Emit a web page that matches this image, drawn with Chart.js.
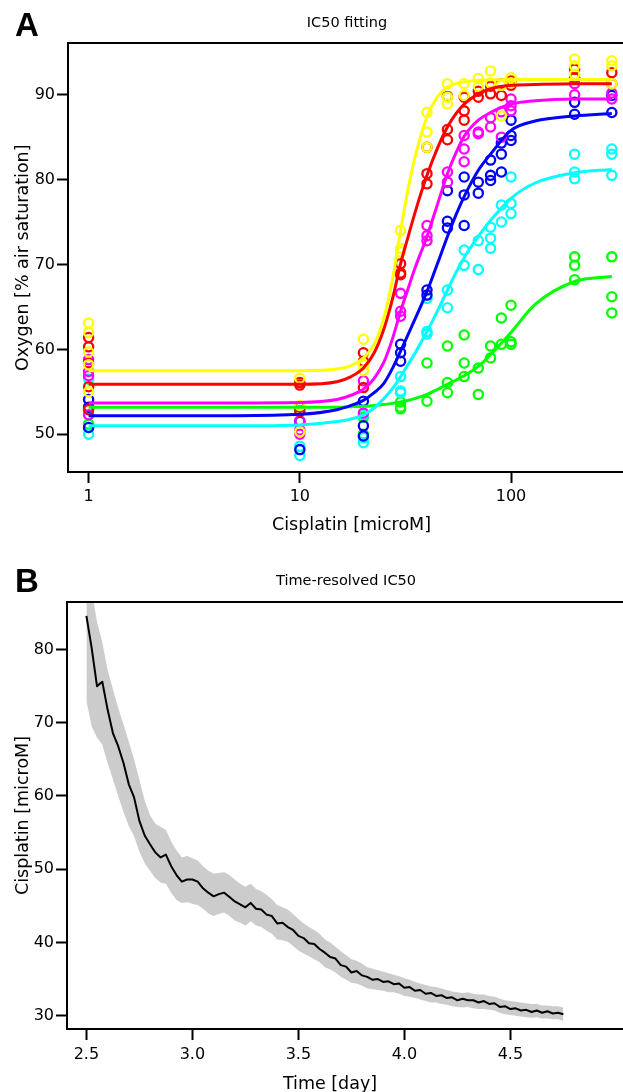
<!DOCTYPE html>
<html>
<head>
<meta charset="utf-8">
<title>IC50</title>
<script src="https://cdn.jsdelivr.net/npm/chart.js@4.4.1/dist/chart.umd.min.js"></script>
<style>
  html, body { margin: 0; padding: 0; background: #fff; overflow: hidden; }
  #page { position: relative; width: 623px; height: 1092px; overflow: hidden; }
  canvas { position: absolute; left: 0; }
  #fitChart { top: 0; }
  #timeChart { top: 545px; }
</style>
</head>
<body>
<div id="page">
  <canvas id="fitChart" width="640" height="545"></canvas>
  <canvas id="timeChart" width="640" height="547"></canvas>
</div>
<script>
const FONT = '"DejaVu Sans", Verdana, sans-serif';
const LETTER_FONT = '"Liberation Sans", Arial, sans-serif';

// Panel A: measured points, [cisplatin microM, oxygen %]
const yellowPoints = [[1, 63.1], [1, 62.0], [1, 59.7], [1, 58.2], [1, 55.0], [10, 56.6], [10, 53.4], [10, 50.3],
  [20, 61.2], [20, 58.2], [20, 57.5], [30, 74.0], [30, 71.9], [30, 71.5], [40, 87.9], [40, 85.6], [40, 83.8],
  [50, 91.3], [50, 89.7], [50, 88.9], [60, 91.3], [60, 89.9], [70, 91.9], [70, 91.0], [80, 92.8], [80, 91.4],
  [90, 91.1], [90, 87.5], [100, 92.0], [100, 91.4], [200, 94.2], [200, 93.4], [200, 92.4], [300, 94.0], [300, 93.4], [300, 91.3]];
const redPoints = [[1, 61.4], [1, 60.3], [1, 58.4], [1, 55.6], [1, 52.9], [10, 56.1], [10, 55.8], [10, 53.2], [10, 52.7],
  [20, 59.6], [20, 58.6], [20, 55.5], [30, 70.1], [30, 69.0], [30, 68.8], [40, 83.8], [40, 80.7], [40, 79.5],
  [50, 89.8], [50, 85.9], [50, 84.7], [60, 89.7], [60, 88.1], [60, 87.0], [70, 90.4], [70, 89.7], [80, 91.0], [80, 90.1],
  [90, 91.3], [90, 89.9], [100, 91.6], [100, 91.1], [200, 93.0], [200, 92.0], [300, 92.6], [300, 91.3]];
const magentaPoints = [[1, 58.8], [1, 57.4], [1, 56.9], [1, 52.3], [10, 51.6], [10, 50.5], [10, 50.0],
  [20, 56.3], [20, 52.5], [30, 66.6], [30, 64.5], [30, 63.9], [40, 74.6], [40, 73.4], [40, 72.8],
  [50, 80.9], [50, 79.7], [60, 85.2], [60, 83.6], [60, 82.1], [70, 85.6], [70, 85.4], [80, 87.3], [80, 86.2],
  [90, 88.0], [90, 85.0], [100, 89.5], [100, 88.7], [100, 88.1], [200, 91.3], [200, 90.0], [300, 90.2], [300, 89.5]];
const bluePoints = [[1, 54.1], [1, 53.2], [1, 50.8], [10, 51.5], [10, 48.2], [20, 53.9], [20, 51.0], [20, 49.8],
  [30, 60.6], [30, 59.6], [30, 58.6], [40, 67.0], [40, 66.4], [50, 78.7], [50, 75.1], [50, 74.3],
  [60, 80.3], [60, 78.2], [60, 74.6], [70, 79.7], [70, 78.4], [80, 82.3], [80, 80.5], [80, 79.9],
  [90, 84.3], [90, 83.0], [90, 80.9], [100, 87.0], [100, 85.2], [100, 84.6], [200, 89.1], [200, 87.7], [300, 89.9], [300, 87.9]];
const cyanPoints = [[1, 56.5], [1, 50.8], [1, 50.0], [10, 48.6], [10, 47.5], [20, 52.3], [20, 49.6], [20, 49.0],
  [30, 56.8], [30, 55.1], [30, 54.9], [40, 66.0], [40, 62.1], [40, 61.8], [50, 67.0], [50, 64.9],
  [60, 71.7], [60, 69.9], [70, 72.8], [70, 69.4], [80, 74.4], [80, 73.1], [80, 71.9], [90, 77.0], [90, 75.0],
  [100, 80.3], [100, 77.2], [100, 76.0], [200, 83.0], [200, 80.9], [200, 80.1], [300, 83.6], [300, 83.0], [300, 80.5]];
const greenPoints = [[1, 53.0], [1, 51.2], [10, 52.8], [20, 52.0], [20, 50.0], [30, 53.8], [30, 53.2], [30, 53.0],
  [40, 58.4], [40, 53.9], [50, 60.4], [50, 56.1], [50, 54.9], [60, 61.7], [60, 58.4], [60, 56.8],
  [70, 57.8], [70, 54.7], [80, 60.4], [80, 59.0], [90, 63.7], [90, 60.6], [100, 65.2], [100, 60.9], [100, 60.6],
  [200, 70.9], [200, 69.9], [200, 68.2], [300, 70.9], [300, 66.2], [300, 64.3]];

// Panel A: fitted curves at these concentrations
const fitConc = [1, 5, 10, 15, 17.5, 20, 22.5, 25, 27.5, 30, 32.5, 35, 40, 45, 50, 55, 60, 70, 80, 100, 130, 200, 300];
const yellowFit = [57.5, 57.5, 57.5, 57.7, 58.1, 59.0, 60.6, 63.7, 68.3, 74.0, 78.8, 82.5, 87.4, 89.8, 90.9, 91.3, 91.5, 91.7, 91.75, 91.8, 91.8, 91.8, 91.8];
const redFit = [55.9, 55.9, 55.9, 56.2, 56.8, 57.8, 59.6, 62.4, 66.0, 70.1, 73.2, 76.0, 80.5, 83.8, 86.2, 87.8, 88.9, 90.1, 90.7, 91.1, 91.2, 91.3, 91.3];
const magentaFit = [53.7, 53.7, 53.75, 54.1, 54.6, 55.3, 56.6, 58.5, 61.3, 64.5, 67.1, 69.5, 73.3, 77.2, 80.7, 83.2, 85.1, 87.0, 87.9, 88.9, 89.3, 89.5, 89.5];
const blueFit = [52.2, 52.2, 52.35, 52.9, 53.4, 54.0, 54.9, 56.0, 57.8, 59.8, 61.7, 63.5, 66.8, 70.2, 73.3, 75.9, 78.0, 81.1, 83.0, 85.8, 86.9, 87.5, 87.8];
const cyanFit = [51.0, 51.0, 51.1, 51.5, 51.8, 52.3, 53.1, 54.2, 55.4, 56.8, 58.2, 59.5, 62.1, 64.6, 67.0, 69.1, 70.8, 73.3, 75.2, 77.8, 79.6, 80.8, 81.2];
const greenFit = [53.2, 53.2, 53.2, 53.2, 53.25, 53.3, 53.4, 53.5, 53.65, 53.8, 54.0, 54.2, 54.7, 55.3, 55.9, 56.4, 56.9, 58.0, 59.4, 62.0, 65.3, 68.0, 68.6];

const concTicks = [1, 10, 100];
const oxygenTicks = [50, 60, 70, 80, 90];

// Panel B: time-resolved IC50 with confidence band
const timeDays = [2.5, 2.525, 2.55, 2.575, 2.6, 2.625, 2.65, 2.675, 2.7, 2.725, 2.75, 2.775, 2.8, 2.825, 2.85,
  2.875, 2.9, 2.925, 2.95, 2.975, 3.0, 3.025, 3.05, 3.075, 3.1, 3.125, 3.15, 3.175, 3.2, 3.225, 3.25, 3.275,
  3.3, 3.325, 3.35, 3.375, 3.4, 3.425, 3.45, 3.475, 3.5, 3.525, 3.55, 3.575, 3.6, 3.625, 3.65, 3.675, 3.7,
  3.725, 3.75, 3.775, 3.8, 3.825, 3.85, 3.875, 3.9, 3.925, 3.95, 3.975, 4.0, 4.025, 4.05, 4.075, 4.1, 4.125,
  4.15, 4.175, 4.2, 4.225, 4.25, 4.275, 4.3, 4.325, 4.35, 4.375, 4.4, 4.425, 4.45, 4.475, 4.5, 4.525, 4.55,
  4.575, 4.6, 4.625, 4.65, 4.675, 4.7, 4.725, 4.75];
const ic50Mid = [84.6, 80.2, 75.0, 75.6, 71.8, 68.6, 66.8, 64.5, 61.6, 59.8, 56.6, 54.6, 53.4, 52.3, 51.6,
  52.0, 50.4, 49.2, 48.3, 48.6, 48.6, 48.3, 47.4, 46.8, 46.3, 46.6, 46.8, 46.2, 45.6, 45.2, 44.8, 45.4,
  44.6, 44.5, 43.8, 43.6, 42.6, 42.7, 42.1, 41.7, 40.9, 40.6, 39.9, 39.8, 39.1, 38.6, 38.0, 37.8, 36.9,
  36.7, 35.9, 36.1, 35.5, 35.3, 34.9, 35.0, 34.6, 34.7, 34.3, 34.4, 33.8, 33.9, 33.4, 33.5, 33.0, 33.1,
  32.7, 32.8, 32.4, 32.5, 32.1, 32.3, 32.1, 32.1, 31.8, 32.0, 31.6, 31.7, 31.2, 31.3, 30.9, 31.0, 30.7,
  30.8, 30.5, 30.7, 30.4, 30.6, 30.3, 30.4, 30.2];
const ic50Upper = [91.0, 88.0, 83.8, 81.0, 77.2, 74.6, 72.0, 69.8, 67.4, 65.0, 62.2, 59.4, 57.4, 56.2, 55.8,
  55.4, 53.8, 52.6, 51.6, 51.8, 51.5, 51.2, 50.4, 49.8, 49.4, 49.5, 49.6, 49.2, 48.6, 48.0, 47.6, 48.0,
  47.3, 47.0, 46.5, 45.9, 45.1, 44.8, 44.5, 43.9, 43.2, 42.6, 42.1, 41.7, 41.2, 40.4, 40.0, 39.4, 38.8,
  38.3, 37.7, 37.5, 37.1, 36.6, 36.4, 36.2, 36.0, 35.8, 35.6, 35.4, 35.1, 34.9, 34.6, 34.4, 34.2, 34.0,
  33.9, 33.7, 33.5, 33.3, 33.2, 33.1, 33.2, 33.0, 32.9, 32.9, 32.7, 32.6, 32.3, 32.1, 32.0, 31.9, 31.8,
  31.7, 31.6, 31.6, 31.4, 31.4, 31.3, 31.3, 31.1];
const ic50Lower = [73.0, 69.5, 68.0, 67.0, 64.5, 62.3, 60.0, 57.8, 55.9, 54.5, 52.4, 50.8, 49.8, 48.8, 48.2,
  48.0, 46.8, 45.8, 45.4, 45.5, 45.3, 45.1, 44.6, 44.0, 43.6, 43.9, 44.1, 43.6, 43.0, 42.7, 42.3, 42.9,
  42.3, 42.1, 41.6, 41.2, 40.4, 40.3, 40.1, 39.5, 38.9, 38.5, 38.1, 37.7, 37.3, 36.6, 36.3, 35.9, 35.3,
  34.9, 34.5, 34.4, 34.1, 33.7, 33.6, 33.5, 33.4, 33.2, 33.2, 33.0, 32.7, 32.6, 32.4, 32.2, 32.0, 31.8,
  31.8, 31.6, 31.5, 31.3, 31.2, 31.1, 31.2, 31.0, 30.9, 30.9, 30.8, 30.7, 30.4, 30.2, 30.1, 30.0, 29.9,
  29.8, 29.7, 29.8, 29.6, 29.6, 29.5, 29.5, 29.3];

const timeTicks = [2.5, 3.0, 3.5, 4.0, 4.5];
const cisplatinTicks = [30, 40, 50, 60, 70, 80];

// box around the plot region plus panel letter, title and axis titles
const panelText = {
  id: 'panelText',
  afterDatasetsDraw(chart) {
    const { ctx, chartArea: a } = chart;
    ctx.save();
    ctx.strokeStyle = '#000';
    ctx.lineWidth = 2;
    ctx.strokeRect(a.left, a.top, a.right - a.left, a.bottom - a.top);
    ctx.restore();
  },
  afterDraw(chart, args, opts) {
    const { ctx } = chart;
    ctx.save();
    ctx.fillStyle = '#000';
    ctx.textBaseline = 'alphabetic';
    ctx.textAlign = 'left';
    ctx.font = `bold 33px ${LETTER_FONT}`;
    ctx.fillText(opts.letter, 15, opts.letterY);
    ctx.textAlign = 'center';
    ctx.font = `14.5px ${FONT}`;
    ctx.fillText(opts.title, opts.titleX, opts.titleY);
    ctx.font = `17.5px ${FONT}`;
    ctx.fillText(opts.xTitle, opts.xTitleX, opts.xTitleY);
    ctx.translate(opts.yTitleX, opts.yTitleY);
    ctx.rotate(-Math.PI / 2);
    ctx.fillText(opts.yTitle, 0, 0);
    ctx.restore();
  },
};

function axisStyle(tickValues, size, pad, fmt) {
  return {
    ticks: {
      font: { family: FONT, size: 16 },
      color: '#000',
      padding: pad,
      autoSkip: false,
      maxRotation: 0,
      callback: fmt,
    },
    grid: { drawOnChartArea: false, drawTicks: true, tickLength: 11, tickWidth: 2, tickColor: '#000' },
    border: { display: false },
    afterBuildTicks: (axis) => {
      axis.ticks = tickValues.map((v) => ({ value: v }));
    },
    afterFit: (axis) => {
      if (axis.isHorizontal()) axis.height = size;
      else axis.width = size;
    },
  };
}

function toXY(xs, ys) {
  return xs.map((x, i) => ({ x, y: ys[i] }));
}

function pairsToXY(pairs) {
  return pairs.map(([x, y]) => ({ x, y }));
}

const series = [
  { color: '#ffff00', points: yellowPoints, fit: yellowFit },
  { color: '#ff0000', points: redPoints, fit: redFit },
  { color: '#ff00ff', points: magentaPoints, fit: magentaFit },
  { color: '#0000ff', points: bluePoints, fit: blueFit },
  { color: '#00ffff', points: cyanPoints, fit: cyanFit },
  { color: '#00ff00', points: greenPoints, fit: greenFit },
];

const fitDatasets = series.map((s) => ({
  data: toXY(fitConc, s.fit),
  showLine: true,
  borderColor: s.color,
  borderWidth: 3,
  pointRadius: 0,
  cubicInterpolationMode: 'monotone',
  fill: false,
}));

const pointDatasets = series.map((s) => ({
  data: pairsToXY(s.points),
  showLine: false,
  borderColor: s.color,
  backgroundColor: 'rgba(0,0,0,0)',
  pointRadius: 4.6,
  pointBorderWidth: 2.3,
}));

new Chart(document.getElementById('fitChart'), {
  type: 'scatter',
  data: { datasets: [...fitDatasets, ...pointDatasets] },
  options: {
    responsive: false,
    animation: false,
    events: [],
    layout: { padding: { top: 43, right: 5, left: 0, bottom: 0 } },
    plugins: {
      legend: { display: false },
      tooltip: { enabled: false },
      panelText: {
        letter: 'A', letterY: 36,
        title: 'IC50 fitting', titleX: 347, titleY: 26.5,
        xTitle: 'Cisplatin [microM]', xTitleX: 351.5, xTitleY: 529.5,
        yTitle: 'Oxygen [% air saturation]', yTitleX: 27.5, yTitleY: 257.7,
      },
    },
    scales: {
      x: { type: 'logarithmic', min: 0.7988, max: 378.4, ...axisStyle(concTicks, 73, 4, (v) => String(v)) },
      y: { type: 'linear', min: 45.56, max: 96.09, ...axisStyle(oxygenTicks, 68, 2, (v) => String(v)) },
    },
  },
  plugins: [panelText],
});

new Chart(document.getElementById('timeChart'), {
  type: 'scatter',
  data: {
    datasets: [
      {
        data: toXY(timeDays, ic50Mid),
        showLine: true,
        borderColor: '#000',
        borderWidth: 2,
        borderJoinStyle: 'round',
        pointRadius: 0,
        fill: false,
      },
      {
        data: toXY(timeDays, ic50Lower),
        showLine: true,
        borderWidth: 0,
        borderColor: 'rgba(0,0,0,0)',
        pointRadius: 0,
        fill: false,
      },
      {
        data: toXY(timeDays, ic50Upper),
        showLine: true,
        borderWidth: 0,
        borderColor: 'rgba(0,0,0,0)',
        backgroundColor: '#cccccc',
        pointRadius: 0,
        fill: '-1',
      },
    ],
  },
  options: {
    responsive: false,
    animation: false,
    events: [],
    layout: { padding: { top: 57, right: 5, left: 0, bottom: 0 } },
    plugins: {
      legend: { display: false },
      tooltip: { enabled: false },
      panelText: {
        letter: 'B', letterY: 47,
        title: 'Time-resolved IC50', titleX: 346, titleY: 39.5,
        xTitle: 'Time [day]', xTitleX: 330, xTitleY: 544,
        yTitle: 'Cisplatin [microM]', yTitleX: 27.5, yTitleY: 270.5,
      },
    },
    scales: {
      x: { type: 'linear', min: 2.4085, max: 5.088, ...axisStyle(timeTicks, 63, 5, (v) => Number(v).toFixed(1)) },
      y: { type: 'linear', min: 28.18, max: 86.49, ...axisStyle(cisplatinTicks, 67, 2, (v) => String(v)) },
    },
  },
  plugins: [panelText],
});
</script>
</body>
</html>
